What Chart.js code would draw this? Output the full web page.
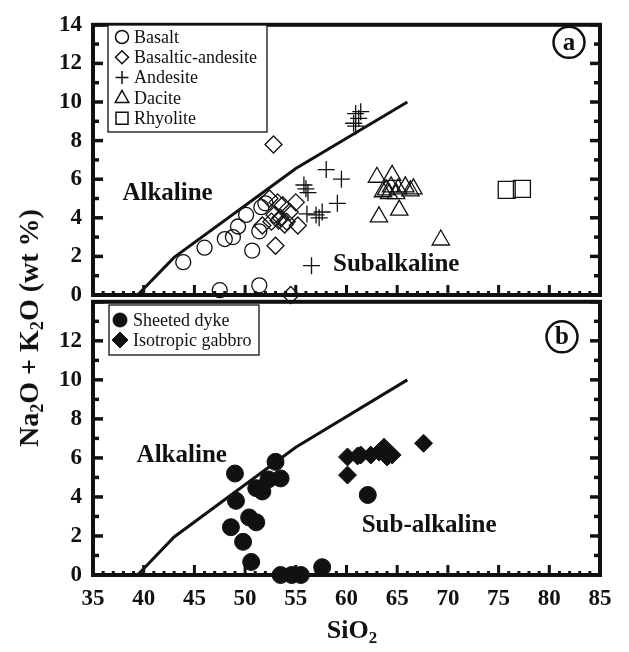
<!DOCTYPE html>
<html>
<head>
<meta charset="utf-8">
<script src="https://cdn.jsdelivr.net/npm/chart.js@4/dist/chart.umd.min.js"></script>
<style>
  body { margin: 0; background: #fff; width: 629px; height: 652px; position: relative; overflow: hidden; font-family: 'Liberation Serif', serif; color: #111; }
  canvas { position: absolute; left: 0; }
  #chartA { top: 0; }
  #chartB { top: 277px; }
  .ytitle { position: absolute; left: 29px; top: 328px; transform: translate(-50%, -50%) rotate(-90deg); font-weight: bold; font-size: 28px; white-space: nowrap; }
  .xtitle { position: absolute; left: 352px; top: 630px; transform: translate(-50%, -50%); font-weight: bold; font-size: 26px; white-space: nowrap; }
  sub { font-size: 0.65em; vertical-align: -0.3em; line-height: 0; }
</style>
</head>
<body>
<canvas id="chartA" width="629" height="320"></canvas>
<canvas id="chartB" width="629" height="375"></canvas>
<div class="ytitle">Na<sub>2</sub>O + K<sub>2</sub>O (wt %)</div>
<div class="xtitle">SiO<sub>2</sub></div>
<script>
// [SiO2, Na2O+K2O]
const basalt = [[43.9,1.7],[46.0,2.45],[47.5,0.25],[48.0,2.9],[48.8,3.0],[49.3,3.55],[50.1,4.15],[50.7,2.3],[51.4,3.3],[51.6,4.55],[51.4,0.5],[52.0,4.75]];
const basalticAndesite = [[52.8,7.8],[53.0,2.55],[54.5,0],[52.4,5.0],[53.2,4.8],[53.7,4.65],[52.9,4.15],[53.5,4.0],[54.1,3.8],[54.4,4.3],[55.0,4.8],[55.2,3.6],[53.9,3.65],[53.3,3.85],[51.7,3.6],[52.6,3.8]];
const andesite = [[60.9,9.4],[61.2,9.15],[60.7,8.9],[61.4,9.5],[60.9,8.75],[58.0,6.5],[59.5,6.0],[56.0,5.5],[55.8,5.7],[56.2,5.3],[59.1,4.75],[57.0,4.15],[57.3,4.0],[56.1,4.2],[57.6,4.3],[56.55,1.52]];
const dacite = [[63.0,6.1],[64.5,6.2],[63.6,5.35],[63.9,5.45],[64.4,5.6],[65.1,5.5],[65.8,5.6],[66.3,5.4],[64.2,5.25],[64.9,5.25],[66.6,5.5],[63.2,4.05],[65.2,4.4],[69.3,2.85]];
const rhyolite = [[75.8,5.45],[77.3,5.5]];

const sheetedDyke = [[49.0,5.2],[53.0,5.8],[53.5,4.95],[52.3,4.9],[51.1,4.45],[51.7,4.28],[49.1,3.8],[50.4,2.95],[51.1,2.7],[48.6,2.45],[49.8,1.7],[50.6,0.67],[53.5,0],[54.6,0],[55.5,0],[57.6,0.4],[62.1,4.1]];
const isotropicGabbro = [[60.1,6.05],[61.1,6.1],[61.4,6.15],[62.4,6.15],[63.2,6.3],[63.7,6.55],[64.0,6.05],[64.5,6.15],[60.1,5.12],[67.6,6.75]];

// Irvine & Baragar alkaline / subalkaline divide
const divide = [[39.4,0],[43,1.95],[55,6.55],[66,10]];

const xTickVals = [35,40,45,50,55,60,65,70,75,80,85];
const yTickValsA = [0,2,4,6,8,10,12,14];
const yTickValsB = [0,2,4,6,8,10,12];

const ink = '#111';
const pts = arr => arr.map(p => ({x: p[0], y: p[1]}));

function pointSet(label, arr, style, radius, filled) {
  return {
    label: label, data: pts(arr), pointStyle: style, pointRadius: radius, pointHoverRadius: radius,
    borderColor: ink, backgroundColor: filled ? ink : 'rgba(0,0,0,0)',
    pointBorderWidth: filled ? 1 : 1.3, showLine: false, clip: false, legendItem: true
  };
}

function lineSet() {
  return { label: 'divide', data: pts(divide), showLine: true, pointRadius: 0, borderColor: ink, borderWidth: 3, fill: false, clip: false };
}

// frame and inward ticks
const framePlugin = {
  id: 'frame',
  beforeDatasetsDraw(chart) {
    const {ctx, chartArea: a, scales: {x, y}} = chart;
    const seg = (x1, y1, x2, y2) => { ctx.beginPath(); ctx.moveTo(x1, y1); ctx.lineTo(x2, y2); ctx.stroke(); };
    ctx.save();
    ctx.strokeStyle = ink;
    ctx.lineWidth = 3.5;
    for (let v = 0; v <= 14; v++) {
      const py = y.getPixelForValue(v);
      const len = v % 2 === 0 ? 10 : 6;
      seg(a.left, py, a.left + len, py);
      seg(a.right, py, a.right - len, py);
    }
    ctx.lineWidth = 3;
    for (let v = 35; v <= 85; v++) {
      const px = x.getPixelForValue(v);
      seg(px, a.bottom, px, a.bottom - (v % 5 === 0 ? 10 : 4));
    }
    ctx.lineWidth = 4;
    ctx.strokeRect(a.left, a.top, a.right - a.left, a.bottom - a.top);
    ctx.restore();
  }
};

function symbol(ctx, style, x, y, r, filled) {
  ctx.beginPath();
  if (style === 'circle') ctx.arc(x, y, r, 0, Math.PI * 2);
  else if (style === 'rectRot') { ctx.moveTo(x, y - r); ctx.lineTo(x + r, y); ctx.lineTo(x, y + r); ctx.lineTo(x - r, y); ctx.closePath(); }
  else if (style === 'cross') { ctx.moveTo(x - r, y); ctx.lineTo(x + r, y); ctx.moveTo(x, y - r); ctx.lineTo(x, y + r); }
  else if (style === 'triangle') { ctx.moveTo(x, y - r); ctx.lineTo(x + r * 0.9, y + r * 0.6); ctx.lineTo(x - r * 0.9, y + r * 0.6); ctx.closePath(); }
  else if (style === 'rect') ctx.rect(x - r, y - r, 2 * r, 2 * r);
  if (filled) ctx.fill();
  ctx.stroke();
}

const legendPlugin = {
  id: 'boxLegend',
  afterDraw(chart, args, o) {
    const ctx = chart.ctx;
    const items = chart.data.datasets.filter(d => d.legendItem);
    ctx.save();
    ctx.strokeStyle = ink;
    ctx.lineWidth = 1.3;
    ctx.fillStyle = '#fff';
    ctx.fillRect(o.x, o.y, o.w, o.h);
    ctx.fillStyle = ink;
    ctx.strokeRect(o.x, o.y, o.w, o.h);
    ctx.font = '18px "Liberation Serif"';
    ctx.textBaseline = 'middle';
    items.forEach((d, i) => {
      const cy = o.y + o.first + i * o.step;
      const filled = d.backgroundColor !== 'rgba(0,0,0,0)';
      ctx.lineWidth = filled ? 1 : 1.5;
      symbol(ctx, d.pointStyle, o.x + o.sym, cy, o.r[d.pointStyle] || 6, filled);
      ctx.fillText(d.label, o.x + o.text, cy + 1);
    });
    ctx.restore();
  }
};

const notePlugin = {
  id: 'notes',
  afterDraw(chart, args, o) {
    const {ctx, scales: {x, y}, chartArea: a} = chart;
    ctx.save();
    ctx.fillStyle = ink; ctx.strokeStyle = ink;
    ctx.font = 'bold 25px "Liberation Serif"';
    ctx.textBaseline = 'alphabetic';
    o.labels.forEach(l => ctx.fillText(l.text, x.getPixelForValue(l.x), y.getPixelForValue(l.y)));
    // panel letter
    const cx = a.right - o.dx, cy = a.top + o.dy;
    ctx.lineWidth = 2.5;
    ctx.beginPath(); ctx.arc(cx, cy, 15.5, 0, Math.PI * 2); ctx.stroke();
    ctx.textAlign = 'center'; ctx.textBaseline = 'middle';
    ctx.fillText(o.letter, cx, cy + 1);
    ctx.restore();
  }
};

Chart.defaults.font.family = '"Liberation Serif", serif';
Chart.defaults.color = ink;

function makeChart(id, datasets, opts) {
  return new Chart(document.getElementById(id), {
    type: 'scatter',
    data: { datasets: datasets },
    options: {
      responsive: false,
      animation: false,
      events: [],
      layout: { padding: opts.padding },
      plugins: {
        legend: { display: false },
        tooltip: { enabled: false },
        boxLegend: opts.legend,
        notes: opts.notes
      },
      scales: {
        x: {
          type: 'linear', min: 35, max: 85,
          display: opts.showX,
          grid: { display: false, drawTicks: false },
          border: { display: false },
          afterBuildTicks: s => { s.ticks = xTickVals.map(v => ({value: v})); },
          afterFit: s => { if (opts.showX) s.height = opts.xHeight; },
          ticks: { autoSkip: false, maxRotation: 0, padding: opts.xPad, font: { size: 23, weight: 'bold' } }
        },
        y: {
          type: 'linear', min: 0, max: 14,
          grid: { display: false, drawTicks: false },
          border: { display: false },
          afterBuildTicks: s => { s.ticks = opts.yTicks.map(v => ({value: v})); },
          afterFit: s => { s.width = 93; },
          ticks: { padding: 11, font: { size: 23, weight: 'bold' } }
        }
      }
    },
    plugins: [framePlugin, legendPlugin, notePlugin]
  });
}

const legendR = { circle: 6.5, rectRot: 6.5, cross: 6.5, triangle: 7.5, rect: 6 };

makeChart('chartA', [
  lineSet(),
  pointSet('Basalt', basalt, 'circle', 7.5, false),
  pointSet('Basaltic-andesite', basalticAndesite, 'rectRot', 8.5, false),
  pointSet('Andesite', andesite, 'cross', 8.5, false),
  pointSet('Dacite', dacite, 'triangle', 10, false),
  pointSet('Rhyolite', rhyolite, 'rect', 12, false)
], {
  padding: { left: 0, right: 29, top: 19.5, bottom: 25 },
  showX: false, xHeight: 0, xPad: 0,
  yTicks: yTickValsA,
  legend: { x: 108, y: 25, w: 159, h: 107, first: 12, step: 20.3, sym: 14, text: 26, r: legendR },
  notes: { labels: [{text: 'Alkaline', x: 37.9, y: 4.93}, {text: 'Subalkaline', x: 58.67, y: 1.22}], letter: 'a', dx: 31, dy: 17.5 }
});

makeChart('chartB', [
  lineSet(),
  pointSet('Sheeted dyke', sheetedDyke, 'circle', 8.5, true),
  pointSet('Isotropic gabbro', isotropicGabbro, 'rectRot', 9, true)
], {
  padding: { left: 0, right: 29, top: 20, bottom: 0 },
  showX: true, xHeight: 77, xPad: 10,
  yTicks: yTickValsB,
  legend: { x: 109, y: 28, w: 150, h: 50, first: 15, step: 20, sym: 11, text: 24, r: { circle: 7, rectRot: 8 } },
  notes: { labels: [{text: 'Alkaline', x: 39.3, y: 5.79}, {text: 'Sub-alkaline', x: 61.5, y: 2.2}], letter: 'b', dx: 38, dy: 35 }
});
</script>
</body>
</html>
